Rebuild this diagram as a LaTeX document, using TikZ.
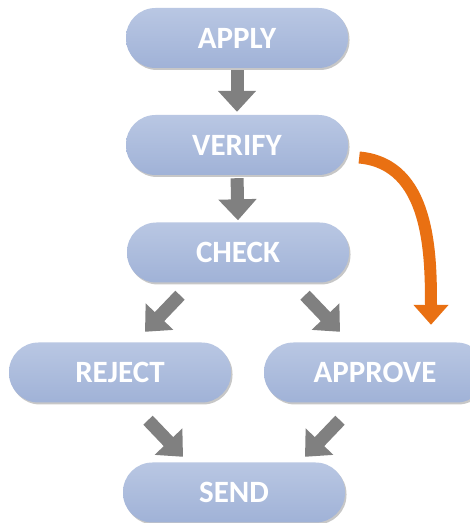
\documentclass[tikz,border=0pt]{standalone}
\usepackage{fontspec}
\setmainfont{Carlito}
\usetikzlibrary{arrows.meta,shadows}

\definecolor{boxtop}{RGB}{185,199,227}
\definecolor{boxbottom}{RGB}{160,178,215}
\definecolor{arrowgray}{RGB}{128,128,128}
\definecolor{accent}{RGB}{233,112,18}

\tikzset{
  stage/.style={
    rectangle, rounded corners=29.5pt,
    minimum width=222pt, minimum height=60pt,
    top color=boxtop, bottom color=boxbottom, draw=none,
    drop shadow={shadow xshift=1.5pt, shadow yshift=-2pt, opacity=0.22, fill=black},
    text=white, font=\fontsize{31}{31}\selectfont\bfseries, inner sep=0pt
  },
  flow/.style={
    draw=arrowgray, line width=13pt,
    -{Triangle[width=37pt,length=21pt]}
  },
  detour/.style={
    draw=accent, line width=12pt,
    -{Triangle[width=34pt,length=20pt]}
  }
}

\begin{document}
\begin{tikzpicture}[x=1pt,y=1pt]
  \useasboundingbox (0,0) rectangle (470,523);
  \fill[white] (0,0) rectangle (470,523);

  % stages of the process
  \node[stage] (apply)   at (237,485)   {APPLY};
  \node[stage] (verify)  at (237,378)   {VERIFY};
  \node[stage] (check)   at (238,270.5) {CHECK};
  \node[stage] (reject)  at (120,150.5) {REJECT};
  \node[stage] (approve) at (375,150.5) {APPROVE};
  \node[stage] (send)    at (234,30.5)  {SEND};

  % straight flow
  \draw[flow, shorten <=2pt, shorten >=3pt] (apply.south) -- (verify.north);
  \draw[flow, shorten <=3pt, shorten >=2pt] (verify.south) -- (check.north);

  % branching and merging
  \draw[flow] ([xshift=-58pt,yshift=-12.5pt]check.south) -- ([xshift=25pt,yshift=10.5pt]reject.north);
  \draw[flow] ([xshift=67pt,yshift=-12.5pt]check.south) -- ([xshift=-35pt,yshift=10.5pt]approve.north);
  \draw[flow] ([xshift=28pt,yshift=-17.5pt]reject.south) -- ([xshift=-51pt,yshift=5.5pt]send.north);
  \draw[flow] ([xshift=-35pt,yshift=-17.5pt]approve.south) -- ([xshift=71pt,yshift=5.5pt]send.north);

  % shortcut from verification straight to approval
  \coordinate (os) at ([xshift=11pt,yshift=-12.5pt]verify.east);
  \coordinate (oe) at ([xshift=56pt,yshift=17.5pt]approve.north);
  \draw[detour] (os) to[out=-5,in=90] (oe);
\end{tikzpicture}
\end{document}
